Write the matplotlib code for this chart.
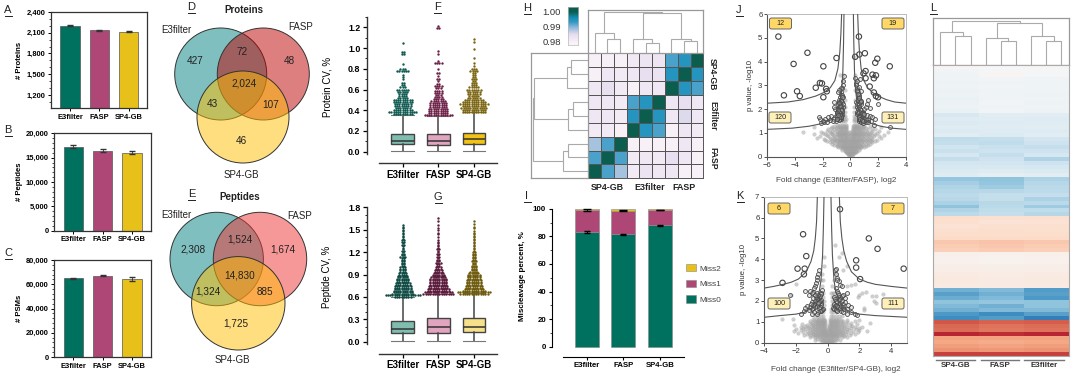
import numpy as np
import matplotlib
matplotlib.use("Agg")
import matplotlib.pyplot as plt
from matplotlib.colors import LinearSegmentedColormap
from matplotlib.patches import Circle, FancyBboxPatch, Patch
from matplotlib.ticker import FuncFormatter, MultipleLocator

plt.rcParams["font.family"] = ["Liberation Sans", "DejaVu Sans"]

W, H = 1080, 379
GREEN, MAROON, GOLD = "#00705F", "#AE4676", "#E7C11A"
DARK = "#333333"

# --- data ---
methods = ["E3filter", "FASP", "SP4-GB"]
protein_counts = [2203, 2136, 2112]
protein_err = [8, 10, 6]
peptide_counts = [17260, 16440, 16030]
peptide_err = [250, 300, 300]
psm_counts = [64900, 67100, 64200]
psm_err = [500, 400, 1600]

venn_proteins = ["427", "72", "48", "43", "2,024", "107", "46"]
venn_peptides = ["2,308", "1,524", "1,674", "1,324", "14,830", "885", "1,725"]

# box stats: low whisker, q1, median, q3, high whisker
protein_box = [[0.005, 0.07, 0.10, 0.17, 0.35],
               [0.005, 0.065, 0.105, 0.17, 0.345],
               [0.005, 0.07, 0.12, 0.185, 0.38]]
peptide_box = [[0.005, 0.11, 0.175, 0.28, 0.60],
               [0.005, 0.115, 0.195, 0.315, 0.645],
               [0.005, 0.125, 0.20, 0.315, 0.65]]

# outliers above the whisker, as value + number of dots at that value
f_bins_e3 = [.36, .38, .40, .42, .44, .46, .48, .50, .52, .54, .56, .58, .60, .62, .64, .66, .70, .72, .74, .78, .80, .85, .94, .96, 1.05]
f_counts_e3 = [9, 13, 9, 7, 8, 8, 9, 9, 5, 4, 4, 5, 6, 3, 2, 2, 1, 1, 1, 6, 3, 1, 2, 2, 1]
f_bins_fasp = [.35, .37, .39, .41, .43, .45, .47, .49, .51, .53, .55, .57, .59, .61, .63, .65, .68, .70, .73, .76, .80, .86, .88, .94, .97, 1.19, 1.21]
f_counts_fasp = [13, 9, 9, 9, 8, 8, 8, 7, 5, 4, 3, 4, 4, 3, 4, 2, 1, 2, 1, 2, 1, 4, 1, 1, 1, 2, 1]
f_bins_sp4 = [.38, .40, .42, .44, .46, .48, .50, .52, .54, .56, .58, .60, .62, .64, .66, .68, .70, .72, .74, .76, .78, .80, .83, .86, .90, .99, 1.06, 1.09]
f_counts_sp4 = [11, 11, 12, 11, 13, 11, 9, 6, 5, 6, 6, 7, 5, 3, 3, 2, 3, 2, 2, 2, 4, 3, 1, 1, 1, 1, 1, 1]

g_bins = [.60, .62, .64, .66, .68, .70, .72, .74, .76, .78, .80, .82, .84, .86, .88, .90, .92, .94, .96, .98,
          1.00, 1.02, 1.04, 1.06, 1.08, 1.10, 1.12, 1.14, 1.16, 1.18, 1.20, 1.22, 1.24, 1.26, 1.28, 1.30, 1.32, 1.34,
          1.36, 1.38, 1.40, 1.42, 1.44, 1.46, 1.48, 1.50, 1.52, 1.54, 1.56, 1.58, 1.60, 1.62, 1.64, 1.66, 1.68]
g_counts_e3 = [8, 16, 10, 9, 9, 8, 8, 8, 7, 7, 6, 6, 6, 5, 5, 4, 4, 3, 3, 3, 3, 2, 2, 2, 2, 2, 2, 3, 2, 2, 1, 2, 1, 1, 1, 2, 1, 2,
               2, 1, 1, 1, 1, 1, 1, 1, 1, 1, 1, 0, 0, 0, 0, 0, 0]
g_counts_fasp = [0, 0, 14, 13, 10, 10, 9, 9, 8, 8, 8, 8, 8, 7, 6, 6, 5, 4, 4, 3, 3, 2, 2, 3, 2, 2, 1, 2, 1, 2, 1, 1, 2, 1, 1, 1, 1, 1,
                 1, 0, 1, 0, 1, 1, 0, 1, 1, 0, 1, 0, 0, 1, 0, 1, 0]
g_counts_sp4 = [0, 0, 13, 15, 11, 9, 8, 8, 7, 7, 7, 7, 6, 6, 6, 6, 5, 4, 3, 3, 3, 3, 2, 2, 3, 2, 2, 2, 2, 2, 2, 1, 1, 1, 1, 1, 1, 1,
                1, 1, 1, 1, 1, 1, 1, 0, 1, 1, 0, 1, 0, 1, 0, 0, 0]

# correlation matrix, rows top to bottom
corr_labels = ["SP4-GB", "E3filter", "FASP"]
corr = [[.9795, .9795, .9795, .9815, .9825, .9825, .992, .994, 1.0],
        [.9795, .982, .981, .982, .984, .983, .994, 1.0, .994],
        [.982, .984, .981, .9795, .982, .982, 1.0, .994, .992],
        [.982, .982, .981, .992, .994, 1.0, .982, .984, .982],
        [.982, .982, .981, .994, 1.0, .994, .982, .985, .982],
        [.981, .981, .9795, 1.0, .994, .992, .9795, .982, .981],
        [.988, .992, 1.0, .9795, .9795, .9795, .9795, .982, .9795],
        [.992, 1.0, .992, .981, .982, .981, .984, .982, .9795],
        [1.0, .992, .988, .981, .983, .982, .982, .9795, .9795]]

# trees as (left, right, merge height)
h_top_tree = ((0, (1, 2, 43), 60), (((3, (4, 5, 32), 43)), (6, (7, 8, 36), 44), 122), 124)
h_left_tree = (((((0, 1, 53), 2, 63)), ((3, 4, 45), 5, 60), 163), ((6, 7, 60), 8, 75), 165)
l_top_tree = ((0, (1, 2, 88), 100), ((3, (4, 5, 72), 82), (6, (7, 8, 72), 87), 125), 133)

miss0 = [83, 81.5, 88]
miss1 = [16, 17, 11]
miss2 = [1, 1.5, 1]
miss0_err = [0.8, 0.4, 0.5]
miss1_err = [0.6, 0.4, 0.3]

j_big_x = [-5.2, -3.1, -4.1, -1.95, -1.0, .62, .65, 1.05, .35, 1.95, 1.8, 2.85, 1.1, .95, 1.6, 1.85, 1.7, 1.1, -2.2, -2.05, -2.5, -1.75, -1.7, -3.85, -3.65, -4.8, -1.95, 1.7, 1.85, 2.0, 1.4]
j_big_y = [5.05, 4.37, 3.9, 3.8, 4.15, 5.05, 4.3, 4.35, 4.2, 4.12, 3.95, 3.8, 3.6, 3.5, 3.45, 3.42, 3.3, 3.3, 3.1, 3.08, 2.9, 2.85, 2.75, 2.75, 2.55, 2.58, 2.5, 2.7, 2.55, 2.5, 2.95]
j_mid_x = [-.45, -.5, -.55, -.6, -.65, -.7, -.75, -.8, -.85, -.9, -.5, -.55, -.6, -.65, -.7, -.75, -.8, -.9, -1, -1.1, -1.2, -.6, -.7, -.8, -.9, -1, -1.2, -1.4, -1.6, -1.8, -.55, -.65, -.75, -.85, -.95, -1.05, -1.25, -1.5, -.7, -.8, -.9, -2.0, -2.2, -2.1, -1.9, -1.7, -2.3, -1.2, -.65, -.6,
           -.58, -.62, -.66, -.72, -.76, -.82, -.6, -.68, -.74, -.8, -.88, -.96, -.64, -.7, -.78, -.84, -.92, -1.0,
           .35, .38, .42, .45, .5, .55, .6, .65, .7, .75, .8, .4, .45, .5, .55, .6, .65, .7, .8, .9, 1, 1.1, 1.2, .5, .6, .7, .8, .9, 1, 1.2, 1.4, 1.6, 1.8, .6, .7, .8, .9, 1, 1.1, 1.3, 1.5, 1.7, .5, .6, .7, .55, .65, .75, 1.25, 1.45, 2.0, 2.85,
           .48, .54, .58, .62, .68, .74, .5, .56, .64, .7, .78, .86, .94, .62, .72, .82, .92, 1.02, 1.15, 1.3]
j_mid_y = [3.4, 3.2, 3.0, 2.9, 2.7, 2.6, 2.5, 2.4, 2.3, 2.2, 2.1, 2.2, 2.3, 2.4, 2.1, 2.0, 2.1, 2.0, 1.9, 2.0, 2.1, 1.9, 1.8, 1.7, 1.8, 1.7, 1.6, 1.7, 1.65, 1.6, 2.5, 1.6, 1.6, 1.55, 1.6, 1.5, 1.5, 1.55, 2.9, 2.8, 2.7, 1.5, 1.6, 1.4, 1.45, 1.45, 1.65, 2.3, 2.0, 1.75,
           2.6, 2.5, 2.35, 2.25, 2.15, 2.25, 1.95, 1.95, 1.85, 1.9, 1.95, 1.85, 1.7, 1.65, 1.75, 1.65, 1.75, 1.6,
           3.3, 3.1, 3.0, 2.9, 2.8, 2.7, 2.6, 2.5, 2.4, 2.3, 2.2, 2.3, 2.2, 2.1, 2.0, 2.2, 2.1, 2.0, 1.95, 1.9, 2.0, 2.1, 2.2, 1.8, 1.7, 1.6, 1.65, 1.7, 1.6, 1.75, 1.7, 1.65, 1.6, 1.5, 1.55, 1.45, 1.4, 1.5, 1.45, 1.55, 1.5, 1.35, 3.2, 2.95, 3.25, 2.35, 1.6, 2.75, 2.4, 2.05, 2.2, 1.25,
           2.75, 2.65, 2.4, 2.45, 2.3, 2.35, 1.9, 1.85, 1.9, 1.75, 1.8, 1.85, 1.8, 1.65, 1.6, 1.55, 1.5, 1.8, 1.55, 1.45]
j_cloud_y = [.05, .1, .15, .2, .25, .3, .35, .4, .45, .5, .55, .6, .65, .7, .75, .8, .85, .9, .95, 1.0, 1.05, 1.1, 1.15, 1.2, 1.25, 1.3, 1.35, 1.5, 1.6, 1.7, 1.9, 2.1, 2.4, 2.8, 3.2, 3.45, 4.2]
j_cloud_x = [[-.1, 0, .1],
             [-.18, -.08, .02, .12, .22],
             [-.25, -.15, -.05, .05, .15, .25],
             [-.34, -.22, -.1, 0, .1, .2, .32, .44],
             [-.4, -.28, -.16, -.06, .04, .14, .24, .36, .5],
             [-.6, -.42, -.28, -.16, -.04, .08, .18, .3, .44, .62],
             [-.7, -.5, -.35, -.22, -.1, .02, .12, .24, .36, .5, .7],
             [-.9, -.62, -.46, -.32, -.2, -.08, .04, .16, .28, .42, .56, .76, 1],
             [-1, -.75, -.55, -.4, -.28, -.15, -.05, .08, .2, .32, .45, .6, .8, 1.1],
             [-1.15, -.9, -.68, -.5, -.36, -.22, -.1, .04, .16, .28, .42, .56, .72, .95, 1.25],
             [-1.3, -1, -.8, -.6, -.45, -.3, -.18, -.05, .1, .22, .35, .5, .65, .85, 1.1, 1.4],
             [-1.5, -1.15, -.92, -.72, -.55, -.4, -.26, -.12, .02, .16, .3, .44, .58, .78, 1, 1.25, 1.6],
             [-1.7, -1.3, -1.05, -.85, -.65, -.5, -.35, -.2, -.05, .12, .25, .4, .55, .7, .9, 1.2, 1.5, 1.8],
             [-1.8, -1.2, -.98, -.76, -.6, -.44, -.3, -.14, .04, .2, .34, .48, .66, .84, 1.1, 1.4, 1.95],
             [-1.9, -1.4, -1.1, -.9, -.7, -.55, -.38, -.22, -.04, .14, .28, .42, .6, .78, 1, 1.3, 1.6],
             [-2.4, -1.5, -1.15, -.82, -.64, -.46, -.3, -.14, .06, .22, .36, .54, .7, .92, 1.18, 1.5, 2.2],
             [-2.2, -1.6, -1.2, -.95, -.75, -.58, -.4, -.25, -.04, .16, .3, .45, .62, .82, 1.05, 1.35, 1.7, 2.05],
             [-1.7, -1.25, -.88, -.68, -.5, -.34, -.16, .08, .24, .38, .56, .74, .96, 1.25, 1.6, 2.4],
             [-2.6, -1.8, -1.3, -1, -.8, -.62, -.45, -.28, -.03, .18, .32, .48, .65, .85, 1.1, 1.4, 1.8],
             [-1.95, -1.4, -.9, -.7, -.52, -.36, -.18, .1, .26, .4, .58, .76, .98, 1.3, 1.9],
             [-3.4, -2.1, -1.5, -1.1, -.85, -.65, -.48, -.3, -.02, .2, .34, .5, .7, .9, 1.2, 1.5, 2.7],
             [-1.7, -1.3, -.95, -.75, -.58, -.42, -.26, .12, .28, .44, .6, .8, 1.05, 1.6, 2.1],
             [-1.6, -1.2, -.9, -.7, -.5, -.32, .22, .36, .52, .72, .95, 1.3, 1.8],
             [-1.4, -1.05, -.78, -.6, -.42, -.28, .2, .32, .46, .64, .84, 1.15, 1.55],
             [-2.6, -1.3, -.95, -.72, -.52, -.34, .24, .38, .55, .75, 1, 2.2],
             [-1.15, -.82, -.62, -.44, -.3, .22, .34, .48, .66, .9, 1.4],
             [-1, -.72, -.52, -.34, .24, .38, .55, .75, 1],
             [-.7, -.5, -.36, .26, .4, .56, .75],
             [-.62, -.44, -.34, .26, .36, .5],
             [-.6, -.45, -.36, .28, .42, .58],
             [-.5, -.4, .3, .45],
             [-.45, -.35, .3, .4],
             [-.4, .32],
             [-.42, .36],
             [-.5, .38],
             [-.75, -.55, .35],
             [.3]]
j_outer_y = [6, 5.2, 4.4, 3.7, 3.2, 2.9, 2.7, 2.55, 2.4, 2.3, 2.25]
j_outer_rx = [.53, .58, .66, .78, .98, 1.25, 1.6, 2.0, 2.6, 3.2, 4]
j_outer_lx = [-.63, -.68, -.76, -.9, -1.12, -1.45, -1.9, -2.5, -3.4, -4.5, -6]
j_inner_y = [6, 4.8, 3.6, 2.8, 2.2, 1.8, 1.55, 1.4, 1.28, 1.2, 1.15]
j_inner_rx = [.22, .25, .3, .38, .5, .72, 1.05, 1.5, 2.2, 3, 4]
j_inner_lx = [-.46, -.49, -.54, -.62, -.76, -1, -1.4, -2, -3, -4.2, -6]

k_big_x = [.78, -1.55, 2.6, 3.15, -1.35, 1.8, 1.8, 4.8, -1.9, -1.45, -1.5, 2.05, -2.85]
k_big_y = [6.4, 5.2, 5.0, 4.5, 4.15, 3.95, 3.6, 3.55, 3.55, 3.55, 3.28, 3.05, 2.87]
k_mid_x = [-.55, -.6, -.65, -.7, -.75, -.8, -.85, -.9, -1, -1.1, -.35, -.4, -.45, -.5, -.55, -.6, -.65, -.7, -.8, -.9, -1, -1.2, -1.4, -.4, -.45, -.5, -.55, -.6, -.7, -.8, -.9, -1, -1.1, -1.3, -1.5, -1.7, -.3, -.35, -.4, -.5, -.6, -.7, -.85, -1, -2.35, -1.4,
           -.42, -.48, -.52, -.58, -.62, -.68, -.74, -.82, -.88, -.94, -1.08, -1.18,
           .45, .5, .55, .6, .7, .75, .55, .6, .65, .7, .75, .8, .9, 1.0, 1.1, 1.2, .4, .45, .5, .6, .7, .8, .9, 1, 1.1, 1.3, 1.5, .35, .4, .5, .6, .7, .85, 1, 1.2, 1.45, 1.7, 1.85, .6, .9,
           .42, .48, .54, .62, .68, .76, .84, .94, 1.05, 1.25]
k_mid_y = [3.5, 3.3, 3.15, 3.0, 2.85, 2.7, 2.6, 2.45, 2.4, 2.5, 2.55, 2.4, 2.35, 2.25, 2.15, 2.05, 2.2, 2.1, 2.0, 2.15, 1.95, 2.3, 2.5, 1.9, 1.8, 1.7, 1.65, 1.85, 1.75, 1.7, 1.65, 1.6, 1.7, 1.75, 1.5, 1.4, 1.6, 1.55, 1.5, 1.5, 1.45, 1.4, 1.45, 1.4, 2.3, 1.65,
           2.05, 2.0, 1.95, 1.9, 2.3, 2.4, 2.2, 2.3, 1.85, 1.8, 1.85, 1.55,
           3.5, 3.55, 3.3, 3.1, 2.95, 2.75, 2.6, 2.5, 2.4, 2.3, 2.2, 2.1, 2.25, 2.3, 2.15, 2.4, 2.2, 2.1, 2.0, 1.95, 2.05, 1.9, 2.0, 1.85, 1.95, 1.8, 1.7, 1.65, 1.6, 1.55, 1.5, 1.6, 1.5, 1.45, 1.4, 1.45, 1.4, 1.35, 3.0, 2.7,
           1.85, 1.75, 1.8, 1.75, 1.7, 1.65, 1.75, 1.7, 1.6, 1.6]
k_cloud_y = [.05, .1, .15, .2, .25, .3, .35, .4, .45, .5, .55, .6, .65, .7, .75, .8, .85, .9, .95, 1.0, 1.05, 1.1, 1.15, 1.3, 1.45, 1.6, 1.8, 2.0, 2.2, 2.4, 2.7, 3.0, 3.3, 3.7, 4.1, 4.7]
k_cloud_x = [[-.2, -.05, .1, .25],
             [-.35, -.18, -.02, .14, .3, .42],
             [-.8, -.5, -.3, -.15, 0, .15, .3, .5, .8],
             [-.65, -.42, -.24, -.08, .08, .22, .4, .62],
             [-1.1, -.8, -.55, -.35, -.2, -.05, .1, .25, .4, .6, .9, 1.2],
             [-.95, -.68, -.46, -.28, -.12, .02, .18, .32, .5, .74, 1.05],
             [-1.5, -1.1, -.8, -.6, -.42, -.25, -.1, .05, .2, .35, .5, .7, .95, 1.4],
             [-1.3, -.95, -.72, -.52, -.34, -.18, -.02, .12, .28, .44, .62, .84, 1.15, 1.7],
             [-1.9, -1.2, -.9, -.65, -.45, -.28, -.12, .04, .2, .36, .55, .75, 1, 1.5],
             [-1.55, -1.05, -.78, -.56, -.38, -.2, -.06, .12, .28, .46, .66, .9, 1.25, 1.9],
             [-2.1, -1.3, -.95, -.7, -.5, -.3, -.14, .05, .22, .38, .58, .8, 1.1, 1.6, 2.5],
             [-1.7, -1.12, -.82, -.6, -.4, -.22, -.08, .14, .3, .48, .7, .95, 1.35, 1.95],
             [-2, -1.4, -1, -.72, -.5, -.32, -.15, .06, .22, .4, .6, .85, 1.2, 1.8],
             [-1.55, -1.15, -.85, -.6, -.42, -.24, .1, .3, .5, .72, 1.02, 1.45, 2],
             [-1.7, -1.25, -.95, -.7, -.5, -.32, -.16, .08, .24, .42, .62, .88, 1.25, 1.7, 2.2],
             [-1.45, -1.08, -.82, -.6, -.42, -.24, .16, .34, .52, .74, 1.05, 1.55],
             [-2.1, -1.3, -.9, -.68, -.5, -.33, -.17, .1, .26, .44, .64, .9, 1.4],
             [-1.6, -1, -.76, -.56, -.38, -.24, .18, .36, .54, .78, 1.15, 1.85],
             [-1.1, -.8, -.6, -.44, -.3, -.17, .12, .28, .46, .66, .95, 1.5, 2.7],
             [-.95, -.68, -.5, -.36, -.22, .2, .38, .56, .82, 1.25],
             [-1.1, -.75, -.58, -.42, -.28, -.18, .14, .3, .48, .68, 1, 1.7],
             [-.86, -.64, -.46, -.32, -.2, .22, .4, .58, .84, 1.2, 2],
             [-2.9, -2.2, -.9, -.7, -.52, -.38, -.26, .16, .32, .5, .7],
             [-.8, -.6, -.45, -.3, .2, .34, .52, .72, .9],
             [-.55, -.4, -.28, .22, .36, .5],
             [-.5, -.36, -.26, .24, .36, .48],
             [-.4, -.26, .25, .36],
             [-.38, -.24, .26, .4],
             [-.3, .26, .38],
             [-.28, .2, .32, .4],
             [-.35, .3],
             [-.4, -.3, .4],
             [-.35, .5],
             [-.2],
             [-.2, .7],
             [.48]]
k_side_x = [2.2, 2.4, 2.0, 1.9, 2.8, 3.05, 2.9, 3.05, 3.5, 3.5, 3.7, 2.3, 2.3, 1.2, 1.5, 1.7, -2.3, -2.0, 1.0, 1.2, .9]
k_side_y = [2.4, 2.45, 2.3, 2.2, 2.25, 2.22, 2.0, 1.9, 2.35, 1.85, 1.75, 1.65, 1.55, 2.7, 2.75, 2.8, 2.3, 2.8, 3.5, 3.7, 4.3]
k_outer_y = [7, 5.8, 5, 4.4, 3.9, 3.4, 3.05, 2.9, 2.8, 2.7, 2.62]
k_outer_rx = [.74, .8, .9, 1.02, 1.2, 1.5, 2, 2.5, 3, 4, 5]
k_outer_lx = [-.65, -.7, -.78, -.88, -1.05, -1.35, -1.85, -2.3, -2.8, -3.4, -4]
k_inner_y = [7, 5.5, 4.2, 3, 2.5, 2, 1.65, 1.45, 1.37, 1.3, 1.22]
k_inner_rx = [.21, .25, .3, .4, .5, .7, 1, 1.5, 2, 3, 5]
k_inner_lx = [-.23, -.27, -.32, -.42, -.52, -.72, -1.02, -1.5, -2, -3, -4]

# big heatmap, z-scores per row and group
l_labels = ["SP4-GB", "FASP", "E3filter"]
l_sp4 = [.02, -.03, -.05, -.04, -.06, -.05, -.07, -.06, -.08, -.07, -.06, -.08,
         -.2, -.16, -.18, -.15, -.17, -.14,
         -.32, -.3, -.25, -.28, -.22, -.3, -.24, -.2, -.18, -.15,
         -.48, -.42, -.38, -.36, -.33, -.35, -.4, -.5, -.38, -.34,
         .22, .2, .18, .2, .22, .24, .34, .32, .3,
         .06, .05, .05, .08, .08, .1, .12, .12, .1,
         -.6, -.68, -.62, -.5, -.55, -.6, -.72, -.78,
         .78, .72, .7, .95, .5, .48, .52, .56, .85]
l_fasp = [0, -.02, .02, -.03, -.04, -.03, -.04, -.05, -.04, -.03, -.04, -.03,
          -.14, -.15, -.16, -.15, -.16, -.17,
          -.3, -.32, -.28, -.26, -.3, -.26, -.24, -.2, -.16, -.12,
          -.5, -.48, -.44, -.35, -.3, -.3, -.35, -.34, -.32, -.3,
          .2, .16, .2, .22, .22, .24, .36, .34, .32,
          .05, .04, .04, .07, .07, .09, .1, .1, .1,
          -.55, -.6, -.55, -.48, -.6, -.55, -.78, -.7,
          .74, .68, .66, .92, .5, .46, .5, .54, .85]
l_e3 = [.01, -.01, -.02, -.04, -.05, -.04, -.05, -.06, -.05, -.06, -.05, -.06,
        -.14, -.16, -.15, -.14, -.16, -.14,
        -.24, -.26, -.3, -.26, -.22, -.38, -.26, -.22, -.18, -.14,
        -.4, -.36, -.34, -.33, -.3, -.4, -.34, -.44, -.32, -.36,
        .2, .18, .2, .2, .22, .24, .34, .32, .3,
        .06, .05, .05, .08, .08, .1, .12, .11, .1,
        -.7, -.68, -.72, -.5, -.5, -.55, -.68, -.85,
        .76, .7, .68, .95, .5, .48, .52, .56, .85]

# --- helpers ---
fig = plt.figure(figsize=(W / 100, H / 100), dpi=100)
over = fig.add_axes([0, 0, 1, 1], zorder=10)
over.set_xlim(0, W)
over.set_ylim(H, 0)
over.axis("off")


def panel(l, t, r, b, xcal=None, ycal=None):
    # axes from pixel box, xcal/ycal = (px0, val0, px1, val1)
    ax = fig.add_axes([l / W, 1 - b / H, (r - l) / W, (b - t) / H])
    if xcal:
        k = (xcal[3] - xcal[1]) / (xcal[2] - xcal[0])
        ax.set_xlim(xcal[1] + (l - xcal[0]) * k, xcal[1] + (r - xcal[0]) * k)
    if ycal:
        k = (ycal[3] - ycal[1]) / (ycal[2] - ycal[0])
        ax.set_ylim(ycal[1] + (b - ycal[0]) * k, ycal[1] + (t - ycal[0]) * k)
    return ax


def letter(s, x, y):
    over.text(x, y, s, fontsize=8, ha="center", va="center", color="#222222")
    over.plot([x - 3.5, x + 3.5], [y + 5.5, y + 5.5], color="#222222", lw=0.7)


comma = FuncFormatter(lambda v, _: f"{int(v):,}")


def bar_panel(box, xcal, ycal, vals, errs, major, minor, ylabel):
    ax = panel(*box, xcal, ycal)
    ax.bar(range(3), vals, width=0.66, color=[GREEN, MAROON, GOLD], edgecolor="#555555", linewidth=0.5,
           yerr=errs, ecolor="#333333", capsize=2.2, error_kw={"lw": 0.6})
    ax.set_xticks(range(3), methods, fontsize=5.4, fontweight="bold")
    ax.yaxis.set_major_locator(MultipleLocator(major))
    ax.yaxis.set_minor_locator(MultipleLocator(minor))
    ax.yaxis.set_major_formatter(comma)
    ax.tick_params(axis="y", labelsize=5.4, width=0.7, length=2.5, pad=1.5)
    ax.tick_params(axis="y", which="minor", width=0.5, length=1.5)
    ax.tick_params(axis="x", width=0.7, length=2, pad=2)
    for lab in ax.get_yticklabels():
        lab.set_fontweight("bold")
    for s in ax.spines.values():
        s.set_linewidth(0.9)
        s.set_color(DARK)
    ax.set_ylabel(ylabel, fontsize=5.6, fontweight="bold", labelpad=2)
    return ax


def venn(centers, r, fills, nums, num_pos, names, name_pos, title, title_pos):
    for (cx, cy), c in zip(centers, fills):
        over.add_patch(Circle((cx, cy), r, fc=c + (0.5,), ec="#333333", lw=0.7))
    for s, p in zip(nums, num_pos):
        over.text(p[0], p[1], s, fontsize=7.2, ha="center", va="center", color="#222222")
    for s, p in zip(names, name_pos):
        over.text(p[0], p[1], s, fontsize=7, ha="center", va="center", color="#222222")
    over.text(title_pos[0], title_pos[1], title, fontsize=7, fontweight="bold", ha="center", va="center", color="#222222")


def swarm(ax, pos, bins, counts, color, step):
    xs, ys = [], []
    for y, n in zip(bins, counts):
        xs.extend(pos + (np.arange(n) - (n - 1) / 2) * step)
        ys.extend([y] * n)
    ax.scatter(xs, ys, s=3, color=color, linewidths=0, zorder=3)


def box_panel(box, xcal, ycal, stats, fills, swarms, top, majors, minors, ylabel):
    ax = panel(*box, xcal, ycal)
    bxp_stats = [dict(whislo=s[0], q1=s[1], med=s[2], q3=s[3], whishi=s[4], fliers=[]) for s in stats]
    art = ax.bxp(bxp_stats, positions=range(3), widths=0.64, patch_artist=True, showfliers=False,
                 capwidths=0.64, boxprops=dict(lw=1, edgecolor="#444444"), medianprops=dict(color="#333333", lw=1.1),
                 whiskerprops=dict(color="#444444", lw=1.1), capprops=dict(color="#777777", lw=0.8))
    for p, c in zip(art["boxes"], fills):
        p.set_facecolor(c)
    for i, (bins, counts, c) in enumerate(swarms):
        swarm(ax, i, bins, counts, c, 0.064)
    ax.set_xticks(range(3), methods, fontsize=7, fontweight="bold")
    ax.set_yticks(majors)
    ax.set_yticks(minors, minor=True)
    ax.yaxis.set_major_formatter(FuncFormatter(lambda v, _: f"{v:.1f}"))
    ax.tick_params(axis="y", labelsize=6.4, width=0.9, length=3, pad=1.5)
    ax.tick_params(axis="y", which="minor", width=0.6, length=1.8)
    ax.tick_params(axis="x", width=0.9, length=3, pad=2)
    for lab in ax.get_yticklabels():
        lab.set_fontweight("bold")
    ax.spines[["top", "right"]].set_visible(False)
    ax.spines["left"].set_bounds(-0.02 * top, top)
    ax.spines["bottom"].set_bounds(-0.665, ax.get_xlim()[1])
    for s in ["left", "bottom"]:
        ax.spines[s].set_linewidth(1.0)
        ax.spines[s].set_color(DARK)
    ax.set_ylabel(ylabel, fontsize=7)
    ax.yaxis.set_label_coords(-0.265, 0.52)
    return ax


def draw_tree(ax, node, orient):
    # returns leaf position and height of a node
    if not isinstance(node, tuple):
        return node, 0
    p1, h1 = draw_tree(ax, node[0], orient)
    p2, h2 = draw_tree(ax, node[1], orient)
    h = node[2]
    xs, ys = [p1, p1, p2, p2], [h1, h, h, h2]
    if orient == "left":
        xs, ys = ys, xs
    ax.plot(xs, ys, color="#AAAAAA", lw=0.8, solid_joinstyle="miter")
    return (p1 + p2) / 2, h


def tree_box(box, tree, orient, xlim, ylim):
    ax = panel(*box)
    ax.set_xlim(*xlim)
    ax.set_ylim(*ylim)
    ax.set_xticks([])
    ax.set_yticks([])
    for s in ax.spines.values():
        s.set_color("#999999")
        s.set_linewidth(0.9)
    draw_tree(ax, tree, orient)
    return ax


def volcano(box, xcal, ycal, xticks, yticks, big, mid, cloud, outer, inner, xlabel, xpad, ypad, badges):
    ax = panel(*box, xcal, ycal)
    ax.scatter(cloud[0], cloud[1], s=7, color="#A8A8A8", alpha=0.55, edgecolors="#999999", linewidths=0.2, zorder=2)
    ax.scatter(mid[0], mid[1], s=8, facecolors="#BBBBBB55", edgecolors="#4A4A4A", linewidths=0.6, zorder=3)
    ax.scatter(big[0], big[1], s=15, facecolors="none", edgecolors="#444444", linewidths=0.8, zorder=4)
    for y, lx, rx in (outer, inner):
        ax.plot(lx, y, color="#555555", lw=0.8, zorder=5)
        ax.plot(rx, y, color="#555555", lw=0.8, zorder=5)
    ax.set_xticks(xticks)
    ax.set_yticks(yticks)
    ax.tick_params(labelsize=5.6, width=0.6, length=2, pad=1.5, colors="#333333")
    for s in ["top", "right"]:
        ax.spines[s].set_color("#BBBBBB")
        ax.spines[s].set_linewidth(0.7)
    for s in ["left", "bottom"]:
        ax.spines[s].set_color("#555555")
        ax.spines[s].set_linewidth(0.8)
    ax.set_xlabel(xlabel, fontsize=5.9, color="#444444", labelpad=xpad)
    ax.set_ylabel("p value, -log10", fontsize=5.6, color="#333333", labelpad=ypad)
    for s, cx, cy, fc in badges:
        over.add_patch(FancyBboxPatch((cx - 9.5, cy - 4), 19, 8, boxstyle="round,pad=1.5,rounding_size=2",
                                      fc=fc, ec="#666666", lw=0.7))
        over.text(cx, cy, s, fontsize=5.2, ha="center", va="center", color="#222222")
    return ax


def flatten(levels, rows):
    xs, ys = [], []
    for y, row in zip(levels, rows):
        xs.extend(row)
        ys.extend([y] * len(row))
    return xs, ys


# --- A B C ---
bar_panel((50.7, 11.7, 147.3, 108.3), (70, 0, 99.33, 1), (32.7, 2100, 53.5, 1800), protein_counts, protein_err, 300, 100, "# Proteins").set_yticks([1200, 1500, 1800, 2100, 2400])
bar_panel((54, 133.3, 151, 230.7), (73.3, 0, 102.7, 1), (230.7, 0, 133.3, 20000), peptide_counts, peptide_err, 5000, 1000, "# Peptides")
bar_panel((54, 260, 151, 357), (73.3, 0, 102.7, 1), (357, 0, 260, 80000), psm_counts, psm_err, 20000, 4000, "# PSMs")
letter("A", 8, 10)
letter("B", 8, 130)
letter("C", 8, 253)

# --- D E venns ---
teal, red_d, red_e, yellow = (0, .5, .5), (.75, 0, 0), (.94, .2, .2), (1, .75, 0)
venn([(220.7, 74), (263.3, 74), (243, 117)], 46, [teal, red_d, yellow], venn_proteins,
     [(195, 61), (242, 52), (289, 61), (212, 104), (244, 84), (271, 105), (241, 141)],
     ["E3filter", "FASP", "SP4-GB"], [(176, 30), (301, 27), (241, 175)], "Proteins", (244, 10))
venn([(216.7, 259), (260, 259), (238.3, 303.3)], 46.7, [teal, red_e, yellow], venn_peptides,
     [(193, 250), (240, 239), (283, 250), (208, 292), (240, 275), (265, 292), (236, 324)],
     ["E3filter", "FASP", "SP4-GB"], [(176, 215), (300, 216), (232, 360)], "Peptides", (240, 197))
letter("D", 191.5, 7)
letter("E", 191.5, 194)

# --- F G ---
ax_f = box_panel((366.7, 17, 497, 163), (402.7, 0, 438.3, 1), (151.7, 0, 27.3, 1.2), protein_box,
                 ["#7FBDB0", "#E2A5C0", "#F2C314"],
                 [(f_bins_e3, f_counts_e3, "#0E5A50"), (f_bins_fasp, f_counts_fasp, "#6B1F45"), (f_bins_sp4, f_counts_sp4, "#7A6410")],
                 1.3, [0, .2, .4, .6, .8, 1.0, 1.2], [.1, .3, .5, .7, .9, 1.1, 1.3], "Protein CV, %")
ax_g = box_panel((366.7, 207, 497, 353.5), (402.7, 0, 438.3, 1), (341.7, 0, 207.3, 1.8), peptide_box,
                 ["#7FBDB0", "#E2A5C0", "#F6E08A"],
                 [(g_bins, g_counts_e3, "#0E4A42"), (g_bins, g_counts_fasp, "#5A1A3A"), (g_bins, g_counts_sp4, "#6E5A0C")],
                 1.8, [0, .3, .6, .9, 1.2, 1.5, 1.8], [.1, .2, .4, .5, .7, .8, 1.0, 1.1, 1.3, 1.4, 1.6, 1.7], "Peptide CV, %")
letter("F", 437.7, 7)
letter("G", 438, 197)

# --- H ---
corr_cmap = LinearSegmentedColormap.from_list("corr", [(0, "#FBF3F8"), (0.28, "#E6DEEF"), (0.5, "#8FB8DA"),
                                                       (0.68, "#2E98C4"), (0.8, "#1590B8"), (1, "#0B5D4E")])
ax_h = panel(588.3, 53.3, 703.3, 178.3)
ax_h.pcolormesh(np.array(corr)[::-1], cmap=corr_cmap, vmin=0.9785, vmax=1.0, edgecolors="#555555", linewidth=0.5)
ax_h.set_xticks([])
ax_h.set_yticks([])
for s in ax_h.spines.values():
    s.set_color("#555555")
    s.set_linewidth(0.7)
tree_box((588.3, 10, 703.3, 53.3), h_top_tree, "top", (-0.5, 8.5), (0, 130))
tree_box((530.7, 53.3, 588.3, 178.3), h_left_tree, "left", (173, 0), (8.5, -0.5))
ax_cb = panel(567.7, 7.3, 578.3, 45)
ax_cb.imshow(np.linspace(1.003, 0.9775, 60)[:, None], cmap=corr_cmap, vmin=0.9785, vmax=1.0, aspect="auto",
             extent=[0, 1, 0.9775, 1.003])
ax_cb.set_xticks([])
ax_cb.yaxis.tick_left()
ax_cb.set_yticks([0.98, 0.99, 1.0], ["0.98", "0.99", "1.00"])
ax_cb.tick_params(axis="y", length=0, labelsize=6.8, pad=5, colors="#333333")
for s in ax_cb.spines.values():
    s.set_color("#BBBBBB")
    s.set_linewidth(0.5)
for lab, yc in zip(corr_labels, [74, 116, 158]):
    over.text(712.5, yc, lab, fontsize=6.2, fontweight="bold", rotation=-90, ha="center", va="center", color="#222222")
for lab, xc in zip(corr_labels, [607.7, 650, 684]):
    over.text(xc, 187, lab, fontsize=6.4, fontweight="bold", ha="center", va="center", color="#222222")
letter("H", 527, 8)

# --- I ---
ax_i = panel(551.7, 204, 684, 356.7, (586.7, 0, 623.3, 1), (346.7, 0, 208.7, 100))
bottom1 = np.array(miss0)
bottom2 = bottom1 + np.array(miss1)
ax_i.bar(range(3), miss0, width=0.66, color=GREEN, edgecolor="#888888", linewidth=0.4)
ax_i.bar(range(3), miss1, width=0.66, bottom=bottom1, color=MAROON, edgecolor="#888888", linewidth=0.4)
ax_i.bar(range(3), miss2, width=0.66, bottom=bottom2, color=GOLD, edgecolor="#888888", linewidth=0.4)
ax_i.errorbar(range(3), bottom1, yerr=miss0_err, fmt="none", ecolor="black", capsize=2.2, lw=0.7)
ax_i.errorbar(range(3), bottom2, yerr=miss1_err, fmt="none", ecolor="black", capsize=2.8, lw=0.7)
ax_i.set_xticks(range(3), methods, fontsize=5.6, fontweight="bold")
ax_i.set_yticks([0, 20, 40, 60, 80, 100])
ax_i.set_yticks([10, 30, 50, 70, 90], minor=True)
ax_i.tick_params(axis="y", labelsize=5.7, width=0.8, length=2.5, pad=1.5)
ax_i.tick_params(axis="y", which="minor", width=0.5, length=1.5)
ax_i.tick_params(axis="x", width=0.8, length=2, pad=2)
for lab in ax_i.get_yticklabels():
    lab.set_fontweight("bold")
ax_i.spines[["top", "right"]].set_visible(False)
ax_i.spines["left"].set_bounds(0, 100)
ax_i.spines["bottom"].set_bounds(-0.656, ax_i.get_xlim()[1])
ax_i.set_ylabel("Miscleavage percent, %", fontsize=5.8, fontweight="bold")
ax_i.yaxis.set_label_coords(-0.197, 0.53)
fig.legend(handles=[Patch(fc=GOLD, ec="#888888", lw=0.4, label="Miss2"), Patch(fc=MAROON, ec="#888888", lw=0.4, label="Miss1"),
                    Patch(fc=GREEN, ec="#888888", lw=0.4, label="Miss0")],
           loc="upper left", bbox_to_anchor=(686 / W, 1 - 264 / H), frameon=False, fontsize=6, labelcolor="#444444",
           handlelength=1.2, handleheight=1, handletextpad=0.4, labelspacing=0.85, borderpad=0, borderaxespad=0)
letter("I", 527, 196)

# --- J K ---
big_badge, small_badge = "#FFD866", "#FFF0B8"
j_cloud = flatten(j_cloud_y, j_cloud_x)
volcano((767.3, 14, 905.7, 156.7), (767.3, -6, 905.7, 4), (156.7, 0, 14, 6), [-6, -4, -2, 0, 2, 4], range(7),
        (j_big_x, j_big_y), (j_mid_x, j_mid_y), j_cloud, (j_outer_y, j_outer_lx, j_outer_rx), (j_inner_y, j_inner_lx, j_inner_rx),
        "Fold change (E3filter/FASP), log2", 6, 3,
        [("12", 780.5, 23.5, big_badge), ("19", 893, 23.5, big_badge), ("120", 780, 117.5, small_badge), ("131", 893, 117.5, small_badge)])
k_cloud = flatten(k_cloud_y, k_cloud_x)
volcano((764.3, 196.7, 906.7, 342.7), (764.3, -4, 891, 4), (342.7, 0, 196.7, 7), [-4, -2, 0, 2, 4], range(8),
        (k_big_x, k_big_y), (k_mid_x, k_mid_y), (k_cloud[0] + k_side_x, k_cloud[1] + k_side_y), (k_outer_y, k_outer_lx, k_outer_rx),
        (k_inner_y, k_inner_lx, k_inner_rx), "Fold change (E3filter/SP4-GB), log2", 8, 5.5,
        [("6", 779, 208.5, big_badge), ("7", 893, 208.5, big_badge), ("100", 779, 303.5, small_badge), ("111", 893, 303.5, small_badge)])
letter("J", 739, 10)
letter("K", 740, 196)

# --- L ---
tree_box((932.7, 18.3, 1069, 65), l_top_tree, "top", (-0.5, 8.5), (0, 140))
l_matrix = np.repeat(np.array([l_sp4, l_fasp, l_e3]).T, 3, axis=1)
ax_l = panel(932.7, 65, 1069, 356)
ax_l.imshow(l_matrix, cmap="RdBu_r", vmin=-1.25, vmax=1.25, aspect="auto", interpolation="nearest")
ax_l.set_xticks([])
ax_l.set_yticks([])
for s in ax_l.spines.values():
    s.set_color("#AAAAAA")
    s.set_linewidth(0.8)
for lab, x0, x1 in zip(l_labels, [935.7, 980.7, 1024.3], [975, 1019.3, 1064]):
    over.plot([x0, x1], [359.5, 359.5], color="#777777", lw=1)
    over.text((x0 + x1) / 2, 365.3, lab, fontsize=5.8, fontweight="bold", ha="center", va="center", color="#333333")
letter("L", 933, 8)

fig.savefig("out.png", dpi=100)
